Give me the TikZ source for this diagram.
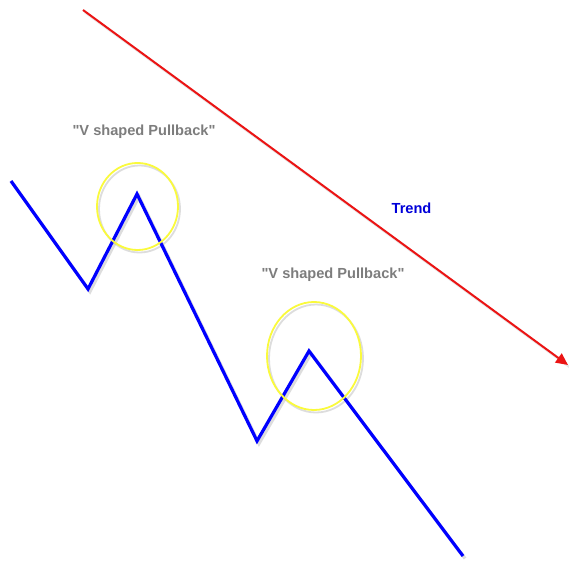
\documentclass[tikz,border=0pt]{standalone}
\usepackage{fontspec}
\newfontfamily\labelfont{Liberation Sans}
\usetikzlibrary{shapes.geometric, arrows.meta}
\definecolor{penblue}{RGB}{0,0,255}
\definecolor{trendred}{RGB}{235,20,20}
\definecolor{ringyellow}{RGB}{250,250,60}
\definecolor{labelgray}{RGB}{125,125,125}
\definecolor{shadowgray}{RGB}{160,160,160}
\tikzset{
    price/.style = {line width=3.2pt, penblue, line join=miter},
    dropshadow/.style = {shadowgray, opacity=0.35, transform canvas={xshift=2pt, yshift=-2.5pt}},
    trend/.style = {line width=2pt, trendred, -{Triangle[length=12pt, width=11pt]}},
    ring/.style = {draw=ringyellow, line width=1.8pt},
    pullback/.style = {text=labelgray, font=\labelfont\fontsize{14.6}{17}\selectfont\bfseries}
}

\begin{document}
\begin{tikzpicture}[x=1pt, y=-1pt]
	\useasboundingbox[fill=white] (0, 0) rectangle (569, 561);

	% price path
	\coordinate (P1) at (11, 181);
	\coordinate (P2) at (88, 289);
	\coordinate (P3) at (137, 194);
	\coordinate (P4) at (257, 441);
	\coordinate (P5) at (309, 351);
	\coordinate (P6) at (463, 556);

	% trend arrow
	\coordinate (T1) at (83, 10);
	\coordinate (T2) at (568, 365);

	% pullback rings
	\coordinate (R1) at (137.5, 206.5);
	\coordinate (R2) at (314, 356);

	% shadows
	\draw[dropshadow, line width=3.2pt] (P1) -- (P2) -- (P3) -- (P4) -- (P5) -- (P6);
	\draw[dropshadow, line width=2pt, opacity=0.25] (T1) -- (T2);
	\draw[dropshadow, line width=1.8pt] (R1) ellipse [x radius=40.5, y radius=43.5];
	\draw[dropshadow, line width=1.8pt] (R2) ellipse [x radius=47, y radius=54];

	\draw[price] (P1) -- (P2) -- (P3) -- (P4) -- (P5) -- (P6);
	\draw[trend] (T1) -- (T2);
	\draw[ring] (R1) ellipse [x radius=40.5, y radius=43.5];
	\draw[ring] (R2) ellipse [x radius=47, y radius=54];

	% labels
	\node[pullback] (L1) at (144, 131.5){"V shaped Pullback"};
	\node[pullback] (L2) at (333, 275){"V shaped Pullback"};
	\node[pullback, text=penblue!85!black] (TL) at (411.5, 208){Trend};
\end{tikzpicture}
\end{document}
